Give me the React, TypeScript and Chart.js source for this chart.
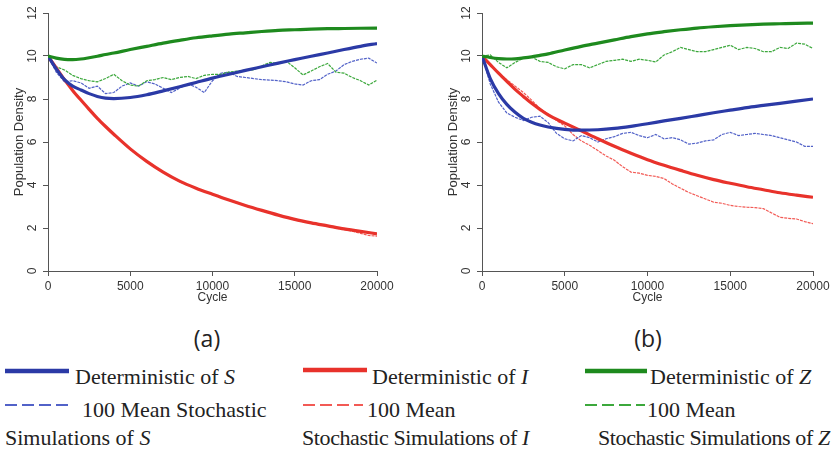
import React, { useEffect, useRef } from 'react';
import { Chart, registerables } from 'chart.js';

Chart.register(...registerables);

// ---------- data ----------
const detCycles = [0, 500, 1000, 1500, 2000, 2500, 3000, 3500, 4000, 5000, 6000, 7000, 8000, 9000, 10000, 11000, 12000, 13000, 14000, 15000, 16000, 17000, 18000, 19000, 20000];
const stochCycles = [0, 500, 1000, 1500, 2000, 2500, 3000, 3500, 4000, 4500, 5000, 5500, 6000, 6500, 7000, 7500, 8000, 8500, 9000, 9500, 10000, 10500, 11000, 11500, 12000, 12500, 13000, 13500, 14000, 14500, 15000, 15500, 16000, 16500, 17000, 17500, 18000, 18500, 19000, 19500, 20000];

const xTicks = [0, 5000, 10000, 15000, 20000];
const yTicks = [0, 2, 4, 6, 8, 10, 12];

// panel (a)
const detS_a = [10, 9.4, 8.9, 8.6, 8.42, 8.25, 8.12, 8.04, 8.02, 8.07, 8.2, 8.38, 8.57, 8.77, 8.97, 9.15, 9.33, 9.5, 9.67, 9.83, 9.99, 10.14, 10.3, 10.45, 10.58];
const detI_a = [10, 9.45, 8.9, 8.4, 7.95, 7.52, 7.1, 6.72, 6.36, 5.68, 5.1, 4.6, 4.18, 3.85, 3.57, 3.3, 3.05, 2.82, 2.6, 2.4, 2.24, 2.1, 1.96, 1.84, 1.73];
const detZ_a = [10, 9.9, 9.84, 9.83, 9.86, 9.92, 9.99, 10.07, 10.14, 10.3, 10.45, 10.6, 10.73, 10.85, 10.94, 11.02, 11.08, 11.14, 11.19, 11.22, 11.25, 11.27, 11.28, 11.29, 11.3];
const stoS_a = [10, 9.25, 8.8, 8.85, 8.75, 8.5, 8.6, 8.25, 8.3, 8.6, 8.75, 8.6, 8.8, 8.7, 8.5, 8.3, 8.5, 8.7, 8.55, 8.3, 8.85, 9.2, 9.25, 9.05, 9.0, 8.95, 8.9, 8.88, 8.85, 8.8, 8.7, 8.65, 8.85, 8.9, 9.15, 9.3, 9.6, 9.75, 9.85, 9.9, 9.67];
const stoI_a = [10, 9.45, 8.85, 8.4, 7.95, 7.5, 7.1, 6.7, 6.4, 6.0, 5.65, 5.35, 5.1, 4.85, 4.6, 4.4, 4.15, 4.0, 3.85, 3.7, 3.55, 3.45, 3.3, 3.15, 3.05, 2.95, 2.82, 2.7, 2.6, 2.5, 2.38, 2.3, 2.22, 2.15, 2.08, 2.0, 1.92, 1.85, 1.75, 1.65, 1.62];
const stoZ_a = [10, 9.5, 9.35, 9.1, 8.95, 8.85, 8.8, 8.95, 9.15, 8.85, 8.65, 8.6, 8.85, 8.9, 9.0, 8.9, 9.0, 9.05, 8.95, 9.1, 9.15, 9.15, 9.25, 9.3, 9.35, 9.35, 9.55, 9.7, 9.65, 9.75, 9.45, 9.12, 9.3, 9.5, 9.65, 9.25, 9.2, 9.0, 8.85, 8.65, 8.88];

// panel (b)
const detS_b = [10, 8.95, 8.25, 7.75, 7.38, 7.1, 6.92, 6.79, 6.7, 6.59, 6.55, 6.57, 6.63, 6.73, 6.85, 6.98, 7.1, 7.23, 7.36, 7.48, 7.6, 7.7, 7.8, 7.9, 8.0];
const detI_b = [10, 9.6, 9.2, 8.82, 8.45, 8.12, 7.8, 7.52, 7.26, 6.88, 6.52, 6.15, 5.8, 5.48, 5.18, 4.92, 4.68, 4.45, 4.25, 4.08, 3.92, 3.78, 3.64, 3.53, 3.43];
const detZ_b = [10, 9.93, 9.88, 9.86, 9.87, 9.91, 9.96, 10.03, 10.1, 10.28, 10.45, 10.6, 10.75, 10.9, 11.03, 11.13, 11.22, 11.3, 11.36, 11.41, 11.45, 11.48, 11.5, 11.52, 11.53];
const stoS_b = [10, 8.7, 7.85, 7.35, 7.15, 7.0, 7.15, 7.2, 6.9, 6.4, 6.15, 6.05, 6.3, 6.2, 6.0, 6.15, 6.25, 6.4, 6.45, 6.3, 6.2, 6.35, 6.15, 6.2, 6.1, 5.9, 5.95, 6.05, 6.1, 6.35, 6.45, 6.3, 6.35, 6.4, 6.35, 6.3, 6.2, 6.1, 6.0, 5.8, 5.8];
const stoI_b = [10, 9.6, 9.2, 8.9, 8.6, 8.3, 7.95, 7.55, 7.3, 7.0, 6.75, 6.35, 6.05, 5.85, 5.6, 5.35, 5.15, 4.85, 4.6, 4.55, 4.45, 4.4, 4.3, 4.05, 3.85, 3.65, 3.5, 3.35, 3.2, 3.15, 3.05, 3.0, 2.97, 2.95, 2.9, 2.7, 2.5, 2.45, 2.42, 2.3, 2.2];
const stoZ_b = [10, 10.05, 9.7, 9.45, 9.7, 9.9, 9.95, 9.75, 9.7, 9.5, 9.4, 9.6, 9.6, 9.45, 9.6, 9.75, 9.8, 9.85, 9.75, 9.85, 9.8, 9.72, 10.05, 10.2, 10.4, 10.3, 10.2, 10.2, 10.3, 10.4, 10.5, 10.3, 10.4, 10.35, 10.2, 10.2, 10.4, 10.35, 10.6, 10.55, 10.35];

// ---------- styles ----------
const BLUE = '#2b3aa6';
const RED = '#e8322b';
const GREEN = '#1e8a1e';
const BLUE_L = '#5262c8';
const RED_L = '#f25a55';
const GREEN_L = '#3ca83c';
const AXIS = '#555';
const TXT = '#333';
const SANS = '"Liberation Sans", Arial, sans-serif';
const SERIF = '"Liberation Serif", "Times New Roman", serif';

const pts = (xs: number[], ys: number[]) => xs.map((x, i) => ({ x, y: ys[i] }));

function det(data: number[], color: string) {
  return {
    data: pts(detCycles, data),
    borderColor: color,
    borderWidth: 3.2,
    pointRadius: 0,
    tension: 0.4,
    cubicInterpolationMode: 'monotone' as const,
    fill: false,
  };
}
function sto(data: number[], color: string) {
  return {
    data: pts(stochCycles, data),
    borderColor: color,
    borderWidth: 1.2,
    borderDash: [3, 1],
    pointRadius: 0,
    tension: 0,
    fill: false,
  };
}

type PanelProps = {
  left: number;
  padLeft: number;
  padRight: number;
  width: number;
  series: { dS: number[]; dI: number[]; dZ: number[]; sS: number[]; sI: number[]; sZ: number[] };
};

function Panel({ left, padLeft, padRight, width, series }: PanelProps) {
  const ref = useRef<HTMLCanvasElement | null>(null);
  useEffect(() => {
    if (!ref.current) return;
    const chart = new Chart(ref.current, {
      type: 'line',
      data: {
        datasets: [
          det(series.dZ, GREEN),
          det(series.dS, BLUE),
          det(series.dI, RED),
          sto(series.sZ, GREEN_L),
          sto(series.sS, BLUE_L),
          sto(series.sI, RED_L),
        ],
      },
      options: {
        responsive: false,
        animation: false,
        devicePixelRatio: 1,
        layout: { padding: { top: 13, left: padLeft, right: padRight, bottom: 0 } },
        plugins: { legend: { display: false }, tooltip: { enabled: false } },
        events: [],
        scales: {
          x: {
            type: 'linear',
            min: 0,
            max: 20000,
            afterBuildTicks: (s: any) => {
              s.ticks = xTicks.map((v) => ({ value: v }));
            },
            afterFit: (s: any) => {
              s.height = 34;
            },
            ticks: {
              callback: (v: any) => String(v),
              font: { family: SANS, size: 12 },
              color: TXT,
              padding: 3,
              maxRotation: 0,
              minRotation: 0,
            },
            grid: { drawOnChartArea: false, drawTicks: true, tickLength: 5, color: AXIS },
            border: { display: true, color: AXIS, width: 1 },
            title: {
              display: true,
              text: 'Cycle',
              font: { family: SANS, size: 12 },
              color: TXT,
              padding: { top: 0, bottom: 0 },
            },
          },
          y: {
            type: 'linear',
            min: 0,
            max: 12,
            afterBuildTicks: (s: any) => {
              s.ticks = yTicks.map((v) => ({ value: v }));
            },
            afterFit: (s: any) => {
              s.width = 48;
            },
            ticks: {
              callback: (v: any) => String(v),
              font: { family: SANS, size: 12 },
              color: TXT,
              padding: 4,
              minRotation: 90,
              maxRotation: 90,
              crossAlign: 'center',
            },
            grid: { drawOnChartArea: false, drawTicks: true, tickLength: 5, color: AXIS },
            border: { display: true, color: AXIS, width: 1 },
            title: {
              display: true,
              text: 'Population Density',
              font: { family: SANS, size: 13 },
              color: TXT,
              padding: { top: 12, bottom: 0 },
            },
          },
        },
      } as any,
    });
    return () => chart.destroy();
  }, []);
  return (
    <canvas
      ref={ref}
      width={width}
      height={305}
      style={{ position: 'absolute', left, top: 0, width, height: 305 }}
    />
  );
}

function LineSample({ x, y, w, color, dashed }: { x: number; y: number; w: number; color: string; dashed?: boolean }) {
  return (
    <svg style={{ position: 'absolute', left: x, top: y - 4 }} width={w} height={8}>
      <line
        x1={0}
        y1={4}
        x2={w}
        y2={4}
        stroke={color}
        strokeWidth={dashed ? 2 : 4.5}
        strokeDasharray={dashed ? '12 5' : undefined}
      />
    </svg>
  );
}

const textStyle = (left: number, top: number, spacing = 0): React.CSSProperties => ({
  position: 'absolute',
  left,
  top,
  fontFamily: SERIF,
  fontSize: 22,
  lineHeight: '22px',
  letterSpacing: spacing,
  color: '#222',
  whiteSpace: 'nowrap',
});

const panelLabelStyle = (center: number): React.CSSProperties => ({
  position: 'absolute',
  left: center - 50,
  width: 100,
  top: 327,
  textAlign: 'center',
  fontFamily: '"Open Sans", "Noto Sans", sans-serif',
  fontSize: 23,
  lineHeight: '23px',
  color: '#222',
});

export default function App() {
  return (
    <div style={{ position: 'absolute', left: 0, top: 0, width: 833, height: 452, background: '#fff', overflow: 'hidden' }}>
      <Panel
        left={0}
        width={420}
        padLeft={0}
        padRight={43}
        series={{ dS: detS_a, dI: detI_a, dZ: detZ_a, sS: stoS_a, sI: stoI_a, sZ: stoZ_a }}
      />
      <Panel
        left={420}
        width={413}
        padLeft={14}
        padRight={20}
        series={{ dS: detS_b, dI: detI_b, dZ: detZ_b, sS: stoS_b, sI: stoI_b, sZ: stoZ_b }}
      />
      <div style={panelLabelStyle(207)}>(a)</div>
      <div style={panelLabelStyle(648)}>(b)</div>

      <LineSample x={5} y={371} w={64} color={BLUE} />
      <div style={textStyle(75, 366)}>Deterministic of <i>S</i></div>
      <LineSample x={303} y={370} w={64} color={RED} />
      <div style={textStyle(372, 366)}>Deterministic of <i>I</i></div>
      <LineSample x={585} y={371} w={62} color={GREEN} />
      <div style={textStyle(650, 366)}>Deterministic of <i>Z</i></div>

      <LineSample x={5} y={405} w={63} color={BLUE_L} dashed />
      <div style={textStyle(82, 399)}>100 Mean Stochastic</div>
      <LineSample x={303} y={405} w={60} color={RED_L} dashed />
      <div style={textStyle(367, 399)}>100 Mean</div>
      <LineSample x={585} y={405} w={60} color={GREEN_L} dashed />
      <div style={textStyle(647, 399)}>100 Mean</div>

      <div style={textStyle(5, 427)}>Simulations of <i>S</i></div>
      <div style={textStyle(302, 427, -0.4)}>Stochastic Simulations of <i>I</i></div>
      <div style={textStyle(598, 427, -0.4)}>Stochastic Simulations of <i>Z</i></div>
    </div>
  );
}
